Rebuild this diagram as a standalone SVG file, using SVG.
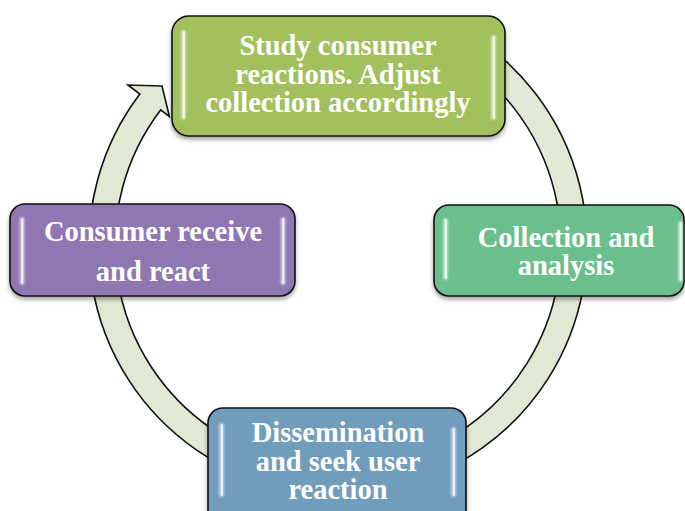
<svg xmlns="http://www.w3.org/2000/svg" width="685" height="511" viewBox="0 0 685 511">
  <defs>
    <filter id="shadow" x="-10%" y="-10%" width="120%" height="130%">
      <feDropShadow dx="0" dy="3" stdDeviation="2.2" flood-color="#000" flood-opacity="0.35"/>
    </filter>
    <filter id="glow" x="-200%" y="-20%" width="500%" height="140%">
      <feGaussianBlur stdDeviation="1.3"/>
    </filter>
    <style>
      .box { stroke: #111; stroke-width: 1.6; }
      .green { fill: #a3c05f; }
      .teal { fill: #6bbf8d; }
      .purple { fill: #8f78b2; }
      .blue { fill: #6f9dbc; }
      .hl-glow { fill: #ffffff; opacity: 0.55; filter: url(#glow); }
      .hl { fill: #ffffff; opacity: 0.75; }
      .label { font-family: "Liberation Serif", "Times New Roman", serif; font-weight: bold; font-size: 28.5px; fill: #ffffff; text-anchor: middle; }
      .ring { fill: #e1e8d4; stroke: #111; stroke-width: 1.6; stroke-linejoin: miter; }
    </style>
  </defs>

  <rect width="685" height="511" fill="#ffffff"/>

  <!-- circular cycle arrow behind the boxes -->
  <g id="connectors">
    <path class="ring" d="M 462.5,29.4 A 249 249 0 1 1 139.9,94.1 L 128,85 L 162,86 L 169.4,116.5 L 160.6,109.9 A 223 223 0 1 0 449.5,51.9 Z"/>
  </g>

  <g id="node-study">
    <rect class="box green" x="172" y="16" width="333" height="120" rx="17" filter="url(#shadow)"/>
    <rect class="hl-glow" x="181" y="30" width="5" height="90" rx="2.5"/>
    <rect class="hl" x="182.8" y="31" width="2" height="88" rx="1"/>
    <rect class="hl-glow" x="491" y="35" width="5" height="85" rx="2.5"/>
    <rect class="hl" x="492.8" y="36" width="2" height="83" rx="1"/>
    <text class="label" x="338" y="55">Study consumer</text>
    <text class="label" x="338" y="84">reactions. Adjust</text>
    <text class="label" x="338" y="112">collection accordingly</text>
  </g>

  <g id="node-collection">
    <rect class="box teal" x="434" y="205" width="250" height="91" rx="15" filter="url(#shadow)"/>
    <rect class="hl-glow" x="443" y="218" width="5" height="62" rx="2.5"/>
    <rect class="hl" x="444.8" y="219" width="2" height="60" rx="1"/>
    <rect class="hl-glow" x="678" y="221" width="5" height="61" rx="2.5"/>
    <rect class="hl" x="679.8" y="222" width="2" height="59" rx="1"/>
    <text class="label" x="566" y="247">Collection and</text>
    <text class="label" x="566" y="275">analysis</text>
  </g>

  <g id="node-consumer">
    <rect class="box purple" x="10" y="204" width="285" height="92" rx="15" filter="url(#shadow)"/>
    <rect class="hl-glow" x="19.5" y="217" width="5" height="68" rx="2.5"/>
    <rect class="hl" x="21.3" y="218" width="2" height="66" rx="1"/>
    <rect class="hl-glow" x="280.5" y="217" width="5" height="68" rx="2.5"/>
    <rect class="hl" x="282.3" y="218" width="2" height="66" rx="1"/>
    <text class="label" x="153" y="241">Consumer receive</text>
    <text class="label" x="153" y="281">and react</text>
  </g>

  <g id="node-dissemination">
    <rect class="box blue" x="208" y="408" width="258" height="118" rx="15" filter="url(#shadow)"/>
    <rect class="hl-glow" x="219" y="423" width="5" height="74" rx="2.5"/>
    <rect class="hl" x="220.8" y="424" width="2" height="72" rx="1"/>
    <rect class="hl-glow" x="451" y="427" width="5" height="70" rx="2.5"/>
    <rect class="hl" x="452.8" y="428" width="2" height="68" rx="1"/>
    <text class="label" x="338" y="442">Dissemination</text>
    <text class="label" x="338" y="471">and seek user</text>
    <text class="label" x="338" y="499">reaction</text>
  </g>
</svg>
